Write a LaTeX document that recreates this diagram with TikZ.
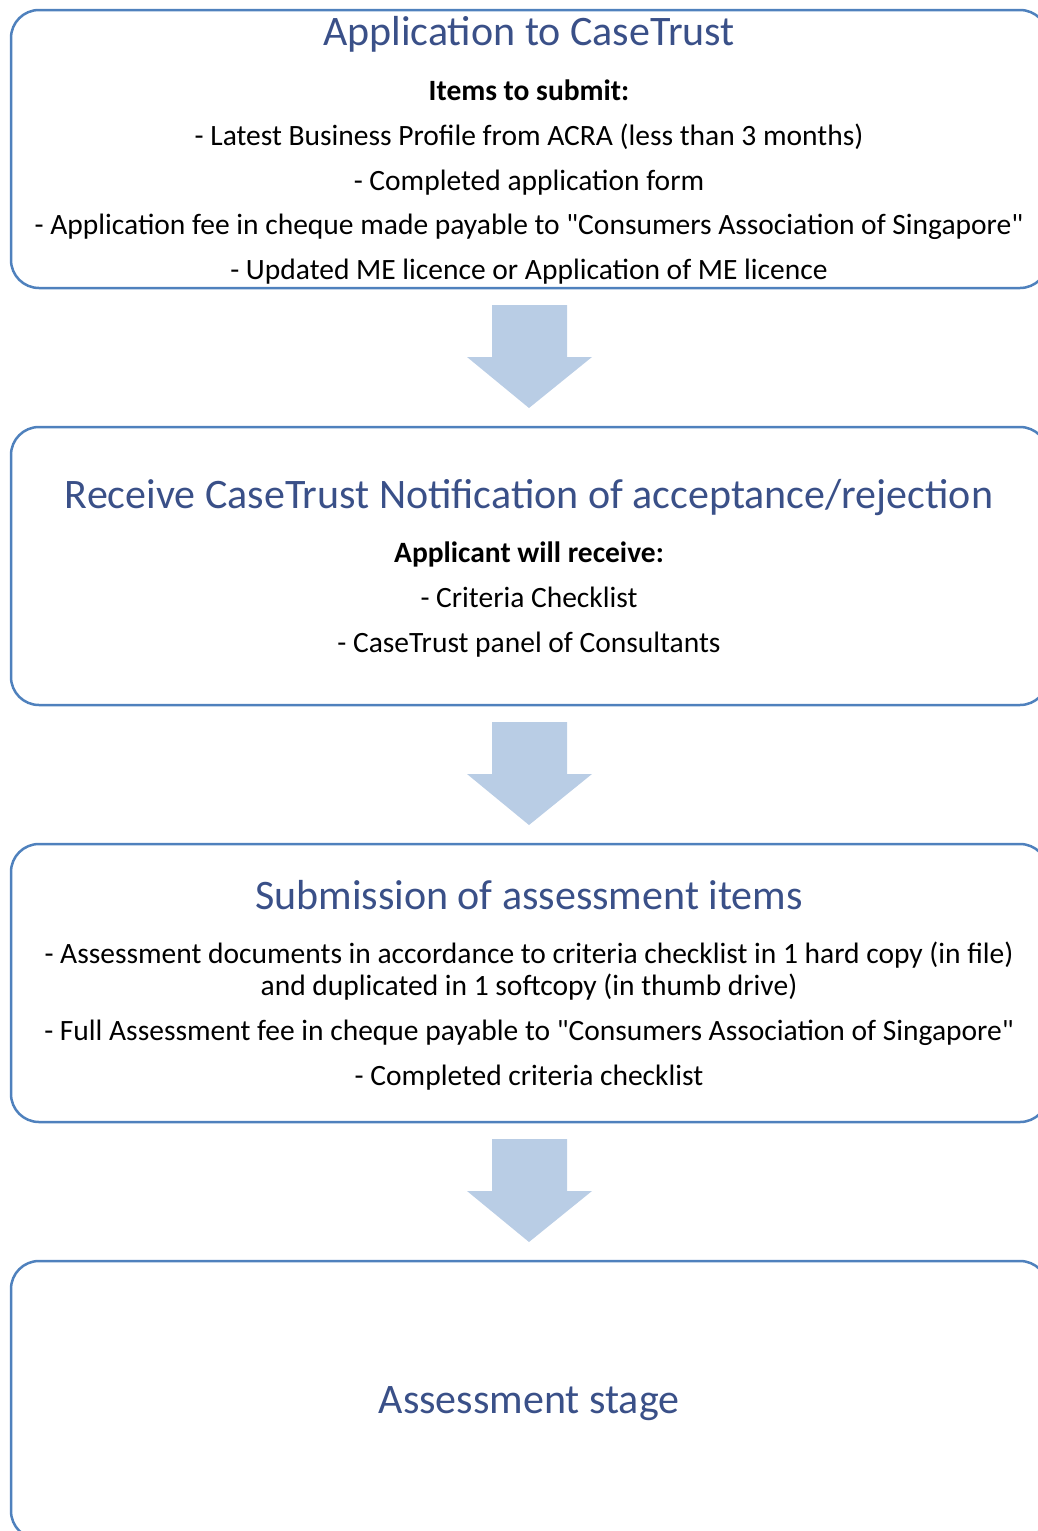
\documentclass[tikz,border=0pt]{standalone}
\usepackage{fontspec}
\setmainfont{Carlito}[Ligatures=TeXOff]
\usetikzlibrary{positioning}

\definecolor{boxline}{RGB}{79,129,189}
\definecolor{arrowfill}{RGB}{185,205,229}
\definecolor{titleblue}{RGB}{58,80,136}

\tikzset{
  stagebox/.style={draw=boxline, line width=2.5pt, rounded corners=28pt},
  stagetitle/.style={anchor=base, inner sep=0pt, text=titleblue, font=\fontsize{42}{46}\selectfont},
  itemline/.style={anchor=base, inner sep=0pt, font=\fontsize{29.5}{33}\selectfont},
  itemhead/.style={itemline, font=\fontsize{29.5}{33}\selectfont\bfseries}
}

\begin{document}
\begin{tikzpicture}[x=1pt,y=-1pt]
  \useasboundingbox (0,0) rectangle (1038,1531);
  \clip (0,0) rectangle (1038,1531);

  % Stage boxes (right edge runs off the page)
  \draw[stagebox] (11,10) rectangle (1048,288);
  \draw[stagebox] (11,427) rectangle (1048,705);
  \draw[stagebox] (11,844) rectangle (1048,1122);
  \draw[stagebox] (11,1261) rectangle (1048,1539);

  % Block arrows between stages
  \foreach \y in {305,722,1139}
    \fill[arrowfill] (492,\y) -- (567,\y) -- (567,\y+52) -- (592,\y+52)
      -- (529,\y+103) -- (467,\y+52) -- (492,\y+52) -- cycle;

  % Stage 1
  \node[stagetitle] (title1) at (529,45) {Application to CaseTrust};
  \node[itemhead] (head1) at (529,100) {Items to submit:};
  \node[itemline] (item1a) at (529,145) {- Latest Business Profile from ACRA (less than 3 months)};
  \node[itemline] (item1b) at (529,190) {- Completed application form};
  \node[itemline] (item1c) at (529,234) {- Application fee in cheque made payable to "Consumers Association of Singapore"};
  \node[itemline] (item1d) at (529,279) {- Updated ME licence or Application of ME licence};

  % Stage 2
  \node[stagetitle] (title2) at (529,508) {Receive CaseTrust Notification of acceptance/rejection};
  \node[itemhead] (head2) at (529,562) {Applicant will receive:};
  \node[itemline] (item2a) at (529,607) {- Criteria Checklist};
  \node[itemline] (item2b) at (529,652) {- CaseTrust panel of Consultants};

  % Stage 3
  \node[stagetitle] (title3) at (529,909) {Submission of assessment items};
  \node[itemline] (item3a) at (529,963) {- Assessment documents in accordance to criteria checklist in 1 hard copy (in file)};
  \node[itemline] (item3b) at (529,995) {and duplicated in 1 softcopy (in thumb drive)};
  \node[itemline] (item3c) at (529,1040) {- Full Assessment fee in cheque payable to "Consumers Association of Singapore"};
  \node[itemline] (item3d) at (529,1085) {- Completed criteria checklist};

  % Stage 4
  \node[stagetitle] (title4) at (529,1413) {Assessment stage};
\end{tikzpicture}
\end{document}
